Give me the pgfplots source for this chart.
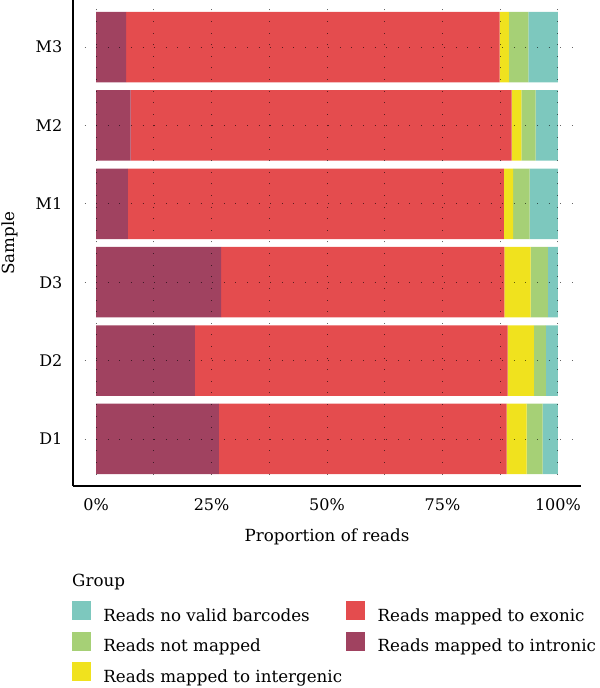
\documentclass[border=0pt]{standalone}
\usepackage{pgfplots}
\pgfplotsset{compat=1.18}
\usepackage{fontspec}
\setmainfont{DejaVu Serif}

\definecolor{cbarcode}{HTML}{7DC8BE}
\definecolor{cunmapped}{HTML}{A6D076}
\definecolor{cintergenic}{HTML}{F0E21E}
\definecolor{cexonic}{HTML}{E44C4E}
\definecolor{cintronic}{HTML}{A04260}

\newcommand{\lblfont}{\fontsize{16.7bp}{20bp}\selectfont}
\newcommand{\tckfont}{\fontsize{16bp}{19bp}\selectfont}

\begin{document}
\begin{tikzpicture}
\begin{axis}[
  scale only axis, width=508bp, height=486bp,
  xmin=-5, xmax=105, ymin=0.4, ymax=6.6,
  xbar stacked, bar width=0.9,
  axis x line*=bottom, axis y line*=left,
  axis line style={line width=1.2bp, black},
  xtick={0,25,50,75,100}, xticklabels={0\%,25\%,50\%,75\%,100\%},
  minor xtick={12.5,37.5,62.5,87.5},
  ytick={1,2,3,4,5,6}, yticklabels={D1,D2,D3,M1,M2,M3},
  major tick length=0pt, minor tick length=0pt,
  xmajorgrids, xminorgrids, ymajorgrids,
  grid style={black, opacity=0.6, line width=0.9bp, dash pattern=on 0.9bp off 10.7bp},
  minor grid style={black, opacity=0.6, line width=0.9bp, dash pattern=on 0.9bp off 10.7bp},
  axis on top,
  tick label style={font=\tckfont},
  xticklabel style={anchor=base, yshift=-24bp, inner sep=0pt},
  yticklabel style={anchor=east, xshift=-10.5bp, inner sep=0pt},
  xlabel={Proportion of reads}, ylabel={Sample},
  label style={font=\lblfont},
  xlabel style={at={(axis description cs:0.5,-0.1152)}, anchor=base},
  ylabel style={at={(axis description cs:-0.1161,0.5)}, anchor=base},
  legend columns=2,
  legend cell align=left,
  legend style={at={(axis description cs:-0.002,-0.2366)}, anchor=north west,
    draw=none, fill=none, inner sep=0pt, outer sep=0pt, font=\lblfont,
    nodes={inner sep=0pt, text height=14bp, text depth=4bp},
    row sep=6.5bp,
    /tikz/every odd column/.append style={column sep=13bp},
    /tikz/every even column/.append style={column sep=4bp}},
]
% intronic
\addplot[fill=cintronic, draw=none, forget plot] coordinates
  {(26.6,1) (21.4,2) (27.1,3) (6.9,4) (7.5,5) (6.5,6)};
% exonic
\addplot[fill=cexonic, draw=none, forget plot] coordinates
  {(62.3,1) (67.7,2) (61.3,3) (81.4,4) (82.5,5) (80.9,6)};
% intergenic
\addplot[fill=cintergenic, draw=none, forget plot] coordinates
  {(4.3,1) (5.7,2) (5.7,3) (2.0,4) (2.1,5) (2.0,6)};
% not mapped
\addplot[fill=cunmapped, draw=none, forget plot] coordinates
  {(3.5,1) (2.6,2) (3.7,3) (3.6,4) (3.1,5) (4.2,6)};
% no valid barcodes
\addplot[fill=cbarcode, draw=none, forget plot] coordinates
  {(3.3,1) (2.6,2) (2.2,3) (6.1,4) (4.8,5) (6.4,6)};

\addlegendimage{legend image code/.code={\fill[cbarcode] (0bp,-3bp) rectangle (18bp,15bp);}}
\addlegendentry{Reads no valid barcodes}
\addlegendimage{legend image code/.code={\fill[cexonic] (0bp,-3bp) rectangle (18bp,15bp);}}
\addlegendentry{Reads mapped to exonic}
\addlegendimage{legend image code/.code={\fill[cunmapped] (0bp,-3bp) rectangle (18bp,15bp);}}
\addlegendentry{Reads not mapped}
\addlegendimage{legend image code/.code={\fill[cintronic] (0bp,-3bp) rectangle (18bp,15bp);}}
\addlegendentry{Reads mapped to intronic}
\addlegendimage{legend image code/.code={\fill[cintergenic] (0bp,-3bp) rectangle (18bp,15bp);}}
\addlegendentry{Reads mapped to intergenic}

\coordinate (grp) at (axis description cs:-0.002,-0.2058);
\coordinate (origin) at (axis description cs:0,0);
\end{axis}
\node[anchor=base west, inner sep=0pt, font=\lblfont] at (grp) {Group};
\pgfresetboundingbox
\path ([shift={(-73bp,-202bp)}]origin) rectangle ([shift={(527bp,486bp)}]origin);
\end{tikzpicture}
\end{document}
